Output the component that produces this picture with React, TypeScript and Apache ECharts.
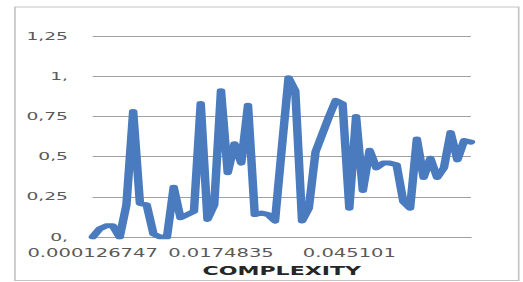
import React, { useEffect, useRef } from "react";
import * as echarts from "echarts";

// Series values (one per category, left to right)
const complexityValues: number[] = [
  0, 0.05, 0.07, 0.07, 0.0, 0.2, 0.78, 0.21, 0.2, 0.02,
  0, 0, 0.31, 0.12, 0.14, 0.16, 0.83, 0.11, 0.2, 0.91,
  0.4, 0.58, 0.46, 0.82, 0.14, 0.15, 0.14, 0.1, 0.55, 0.99,
  0.91, 0.1, 0.18, 0.53, 0.64, 0.75, 0.85, 0.83, 0.18, 0.75,
  0.29, 0.54, 0.43, 0.46, 0.46, 0.45, 0.22, 0.18, 0.61, 0.37,
  0.49, 0.37, 0.43, 0.65, 0.48, 0.6, 0.59,
];

// Category tick labels that are visible, and the category index they sit at
const xTickLabels: string[] = ["0.000126747", "0.0174835", "0.045101"];
const xTickIndices: number[] = [0, 19, 38];

// Y tick labels (0 .. 1.25 step 0.25)
const yTickLabels: string[] = ["0,", "0,25", "0,5", "0,75", "1,", "1,25"];

const xAxisName = "COMPLEXITY";

const STRETCH = 1.7;
const W = 308;
const H = 282;

export default function App() {
  const ref = useRef<HTMLDivElement>(null);

  useEffect(() => {
    if (!ref.current) return;
    const chart = echarts.init(ref.current, undefined, { renderer: "svg" });
    const categories = complexityValues.map((_, i) => String(i));
    chart.setOption({
      animation: false,
      backgroundColor: "#ffffff",
      grid: { left: 54.5, right: 31, top: 36, bottom: 42 },
      graphic: [
        {
          type: "rect",
          shape: { x: 8.8, y: 7, width: 296.3, height: 273.5 },
          style: { fill: "none", stroke: "#C4C4C4", lineWidth: 1 },
          silent: true,
        },
      ],
      xAxis: {
        type: "category",
        data: categories,
        boundaryGap: false,
        axisLine: { show: true, lineStyle: { color: "#A0A0A0", width: 1 } },
        axisTick: { show: false },
        axisLabel: {
          interval: (index: number) => xTickIndices.includes(index),
          formatter: (_v: string, index: number) => {
            const k = xTickIndices.indexOf(index);
            return k >= 0 ? xTickLabels[k] : "";
          },
          color: "#595959",
          fontFamily: "DejaVu Sans",
          fontSize: 11.5,
          margin: 10,
        },
        name: xAxisName,
        nameLocation: "middle",
        nameGap: 24,
        nameTextStyle: {
          color: "#262626",
          fontFamily: "DejaVu Sans",
          fontWeight: "bold",
          fontSize: 13,
        },
        splitLine: { show: false },
      },
      yAxis: {
        type: "value",
        min: 0,
        max: 1.25,
        interval: 0.25,
        axisLine: { show: false },
        axisTick: { show: false },
        axisLabel: {
          formatter: (v: number) => yTickLabels[Math.round(v / 0.25)] ?? "",
          color: "#595959",
          fontFamily: "DejaVu Sans",
          fontSize: 11,
          margin: 14.5,
        },
        splitLine: { show: true, lineStyle: { color: "#A0A0A0", width: 1 } },
      },
      series: [
        {
          type: "line",
          data: complexityValues,
          showSymbol: false,
          symbol: "none",
          lineStyle: { color: "#4A7BBE", width: 5, cap: "round", join: "round" },
          itemStyle: { color: "#4A7BBE" },
        },
      ],
    });
    return () => chart.dispose();
  }, []);

  return (
    <div
      ref={ref}
      style={{
        position: "absolute",
        left: 0,
        top: 0,
        width: W,
        height: H,
        transform: `scaleX(${STRETCH})`,
        transformOrigin: "0 0",
      }}
    />
  );
}
